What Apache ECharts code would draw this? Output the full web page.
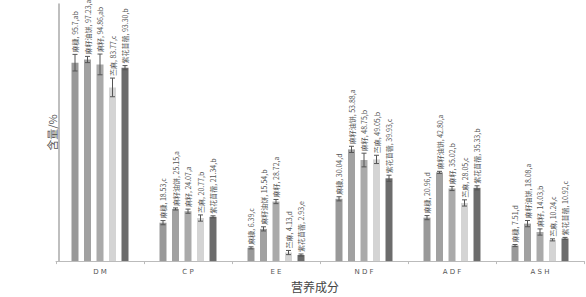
<!DOCTYPE html>
<html>
<head>
<meta charset="utf-8">
<script src="https://cdn.jsdelivr.net/npm/echarts@6/dist/echarts.min.js"></script>
<style>
html,body{margin:0;padding:0;background:#fff;}
#chart{width:586px;height:297px;}
</style>
</head>
<body>
<div id="chart"></div>
<script>
// ---- data ----
const categories = ['DM', 'CP', 'EE', 'NDF', 'ADF', 'ASH'];
const seriesNames = ['麻糠', '麻籽油饼', '麻籽', '苎麻', '紫花苜蓿'];
// values as printed on the labels
const maKang      = ['95.7', '18.53', '6.39', '30.04', '20.96', '7.51'];
const maZiYouBing = ['97.23', '25.15', '15.54', '53.88', '42.80', '18.08'];
const maZi        = ['94.86', '24.07', '28.72', '48.75', '35.02', '14.03'];
const zhuMa       = ['83.77', '20.77', '4.13', '49.05', '28.05', '10.24'];
const ziHuaMuXu   = ['93.30', '21.34', '2.93', '39.93', '35.33', '10.92'];
// significance letters
const maKangSig      = ['ab', 'c', 'c', 'd', 'd', 'd'];
const maZiYouBingSig = ['a', 'a', 'b', 'a', 'a', 'a'];
const maZiSig        = ['ab', 'a', 'a', 'b', 'b', 'b'];
const zhuMaSig       = ['c', 'b', 'd', 'b', 'c', 'c'];
const ziHuaMuXuSig   = ['b', 'b', 'e', 'c', 'b', 'c'];
// error (± SD)
const maKangErr      = [4, 1, 0.5, 1, 1, 0.5];
const maZiYouBingErr = [1.5, 0.5, 1, 1.5, 0.5, 1.5];
const maZiErr        = [5, 1, 1, 3.3, 1, 1.5];
const zhuMaErr       = [4.5, 1.5, 1, 2, 1.5, 0.5];
const ziHuaMuXuErr   = [1, 0.5, 0.5, 1.5, 1, 0.5];

const valueText = [maKang, maZiYouBing, maZi, zhuMa, ziHuaMuXu];
const sigs = [maKangSig, maZiYouBingSig, maZiSig, zhuMaSig, ziHuaMuXuSig];
const errs = [maKangErr, maZiYouBingErr, maZiErr, zhuMaErr, ziHuaMuXuErr];
const colors = ['#999999', '#a1a1a1', '#aaaaaa', '#d4d4d4', '#6c6c6c'];

const BAR_W = 7;
const STEP = 12.5;

const chart = echarts.init(document.getElementById('chart'), null, {renderer: 'svg'});

const barSeries = seriesNames.map((name, s) => ({
  name: name,
  type: 'bar',
  barWidth: BAR_W,
  barGap: ((STEP - BAR_W) / BAR_W * 100) + '%',
  itemStyle: {color: colors[s]},
  data: valueText[s].map(v => parseFloat(v)),
  z: 2
}));

const errData = [];
for (let s = 0; s < seriesNames.length; s++) {
  for (let c = 0; c < categories.length; c++) {
    errData.push([c, s, parseFloat(valueText[s][c]), errs[s][c]]);
  }
}

const errSeries = {
  type: 'custom',
  data: errData,
  encode: {x: 0, y: 2},
  z: 5,
  silent: true,
  renderItem: function (params, api) {
    const c = api.value(0), s = api.value(1), v = api.value(2), e = api.value(3);
    const base = api.coord([c, v]);
    const x = base[0] + (s - 2) * STEP;
    const yTop = api.coord([c, v + e])[1];
    const yBot = api.coord([c, v - e])[1];
    const cap = 2.5;
    const lineStyle = {stroke: '#555', lineWidth: 1};
    const txt = seriesNames[s] + ', ' + valueText[s][c] + ',' + sigs[s][c];
    return {
      type: 'group',
      children: [
        {type: 'line', shape: {x1: x, y1: yTop, x2: x, y2: yBot}, style: lineStyle},
        {type: 'line', shape: {x1: x - cap, y1: yTop, x2: x + cap, y2: yTop}, style: lineStyle},
        {type: 'line', shape: {x1: x - cap, y1: yBot, x2: x + cap, y2: yBot}, style: lineStyle},
        {
          type: 'text',
          x: x,
          y: yTop - 2,
          rotation: Math.PI / 2,
          style: {
            text: txt,
            fill: '#555',
            fontSize: 7,
            fontFamily: '"Liberation Sans Narrow", "Noto Sans CJK SC"',
            textAlign: 'left',
            textVerticalAlign: 'middle'
          }
        }
      ]
    };
  }
};

chart.setOption({
  backgroundColor: '#fff',
  animation: false,
  grid: {left: 56, right: 2, top: 4, bottom: 29},
  xAxis: {
    type: 'category',
    data: categories,
    name: '营养成分',
    nameLocation: 'middle',
    nameGap: 10,
    nameTextStyle: {fontSize: 12, color: '#444', fontFamily: 'Noto Sans CJK SC', padding: [0, 10, 0, 0]},
    axisLine: {lineStyle: {color: '#bbb', width: 1}},
    axisTick: {show: true, length: 3, lineStyle: {color: '#bbb'}},
    axisLabel: {
      color: '#555',
      fontSize: 7,
      margin: 7,
      fontFamily: 'DejaVu Sans',
      formatter: v => v.split('').join(' ')
    }
  },
  yAxis: {
    type: 'value',
    min: 0,
    max: 124,
    offset: -3,
    name: '含量/%',
    nameLocation: 'middle',
    nameRotate: 90,
    nameGap: 2,
    nameTextStyle: {fontSize: 11, color: '#555', fontFamily: 'Noto Sans CJK SC'},
    axisLine: {show: true, lineStyle: {color: '#aaa', width: 1.5}},
    axisTick: {show: false},
    axisLabel: {show: false},
    splitLine: {show: false}
  },
  series: barSeries.concat([errSeries])
});
</script>
</body>
</html>
